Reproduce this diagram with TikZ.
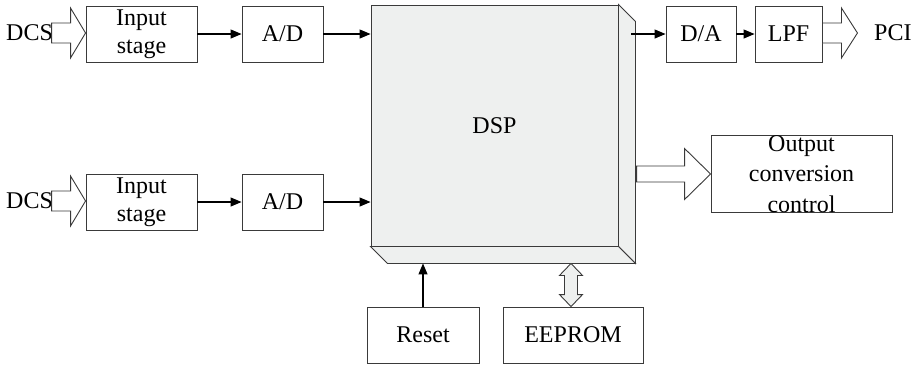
\documentclass[tikz,border=0pt]{standalone}
\usepackage{fontspec}
\setmainfont{Liberation Serif}
\usetikzlibrary{calc,arrows.meta}
\definecolor{dspfill}{HTML}{EEF0EF}
\definecolor{edge}{HTML}{3A3A3A}
\tikzset{
  blk/.style={draw=edge, line width=0.9pt, fill=white, inner sep=0pt, align=center,
    font=\fontsize{24}{28}\selectfont},
  lbl/.style={inner sep=0pt, font=\fontsize{24}{28}\selectfont},
  sig/.style={draw=black, line width=1.1pt, -{Triangle[length=11pt,width=9pt]}},
  hol/.style={draw=edge, line width=0.9pt, fill=white, line join=miter},
  face/.style={draw=edge, line width=0.9pt, fill=dspfill}
}
\begin{document}
\begin{tikzpicture}[x=1pt,y=-1pt]
\useasboundingbox (0,0) rectangle (917,365);
% DSP
\node[face, minimum width=247pt, minimum height=241pt, inner sep=0pt, lbl] (dsp) at (494.5,125.5) {DSP};
\draw[face] (dsp.north east) -- ++(17,17) -- ($(dsp.south east)+(17,17)$) -- (dsp.south east) -- cycle;
\draw[face] (dsp.south west) -- (dsp.south east) -- ++(17,17) -- ($(dsp.south west)+(17,17)$) -- cycle;
\coordinate (dspbot) at ($(dsp.south west)+(0,17)$);
% row 1
\node[blk, minimum width=111pt, minimum height=56pt] (in1) at (141.5,34) {Input\\stage};
\node[blk, minimum width=81pt, minimum height=56pt] (ad1) at (282.5,34) {A/D};
\node[lbl, anchor=west] (dcs1) at (6,33) {DCS};
% row 2
\node[blk, minimum width=111pt, minimum height=56pt] (in2) at (141.5,202) {Input\\stage};
\node[blk, minimum width=81pt, minimum height=56pt] (ad2) at (282.5,202) {A/D};
\node[lbl, anchor=west] (dcs2) at (6,201) {DCS};
% right top
\node[blk, minimum width=70pt, minimum height=56pt] (da) at (701,34) {D/A};
\node[blk, minimum width=67pt, minimum height=56pt] (lpf) at (788.5,34) {LPF};
\node[lbl, anchor=west] (pci) at (874,33) {PCI};
% output conversion
\node[blk, minimum width=181pt, minimum height=56pt, font=\fontsize{24}{30.5}\selectfont] (occ) at (801.5,174) {Output\\conversion\\control};
% bottom
\node[blk, minimum width=112pt, minimum height=56pt] (rst) at (423,335) {Reset};
\node[blk, minimum width=140pt, minimum height=56pt] (eep) at (573,335) {EEPROM};
% signal arrows
\draw[sig] (in1.east) -- (ad1.west);
\draw[sig] (ad1.east) -- (ad1.east -| dsp.west);
\draw[sig] (in2.east) -- (ad2.west);
\draw[sig] (ad2.east) -- (ad2.east -| dsp.west);
\coordinate (dsout) at ($(da.west -| dsp.east)+(13,0)$);
\draw[sig] (dsout) -- (da.west);
\draw[sig] (da.east) -- (lpf.west);
\draw[sig] (rst.north) -- (rst.north |- dspbot);
% hollow arrows
\newcommand\harrowR[5]{% tip, length, headlen, shafthalf, headhalf
  \draw[hol] ($(#1)+(-#2,-#4)$) -- ($(#1)+(-#3,-#4)$) -- ($(#1)+(-#3,-#5)$) -- (#1)
    -- ($(#1)+(-#3,#5)$) -- ($(#1)+(-#3,#4)$) -- ($(#1)+(-#2,#4)$) -- cycle;}
\coordinate (t1) at ($(in1.west)+(0,-1)$);
\harrowR{t1}{34}{15}{10}{25}
\coordinate (t2) at ($(in2.west)+(0,-1)$);
\harrowR{t2}{34}{15}{10}{25}
\coordinate (t3) at ($(lpf.east)+(35,-1)$);
\harrowR{t3}{35}{16}{10}{25}
\harrowR{occ.west}{74}{26}{8}{25.5}
% EEPROM double arrow
\coordinate (ea) at (dspbot -| 571,0);
\coordinate (eb) at (eep.north -| 571,0);
\draw[hol, fill=dspfill] (ea) -- ($(ea)+(11.5,12)$) -- ($(ea)+(6.5,12)$) -- ($(eb)+(6.5,-12)$) -- ($(eb)+(11.5,-12)$) -- (eb)
  -- ($(eb)+(-11.5,-12)$) -- ($(eb)+(-6.5,-12)$) -- ($(ea)+(-6.5,12)$) -- ($(ea)+(-11.5,12)$) -- cycle;
\end{tikzpicture}
\end{document}
